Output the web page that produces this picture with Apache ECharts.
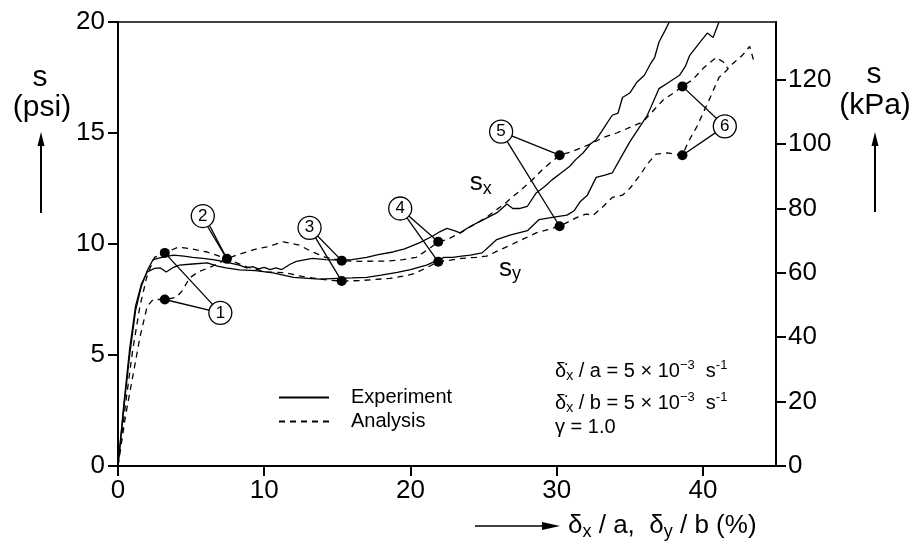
<!DOCTYPE html>
<html><head><meta charset="utf-8">
<script src="https://cdn.jsdelivr.net/npm/echarts@6/dist/echarts.min.js"></script>
<style>html,body{margin:0;padding:0;background:#fff}#c{width:913px;height:545px}</style>
</head><body><div id="c"></div>
<script>
const xTicks = [0, 10, 20, 30, 40];
const yPsiTicks = [0, 5, 10, 15, 20];
const yKpaTicks = [0, 20, 40, 60, 80, 100, 120];
const PSI_TO_KPA = 6.894757;

const expSx = [[0,0],[0.4,2.6],[0.8,5.0],[1.2,7.0],[1.6,8.1],[2.0,8.8],[2.4,9.3],[3.0,9.4],[3.8,9.5],[4.5,9.45],[5.1,9.4],[5.8,9.35],[6.5,9.3],[7.3,9.2],[8.3,9.05],[8.8,8.92],[9.2,8.98],[9.6,8.88],[10.0,8.95],[10.4,8.85],[10.8,8.92],[11.2,8.85],[11.8,9.1],[12.2,9.22],[13.3,9.35],[14.2,9.3],[15.2,9.28],[16.0,9.3],[17.0,9.4],[17.8,9.52],[18.8,9.64],[19.6,9.78],[20.6,10.05],[21.5,10.35],[22.0,10.55],[22.5,10.7],[23.0,10.6],[23.4,10.5],[24.1,10.8],[24.7,11.0],[25.3,11.2],[25.9,11.4],[26.6,11.8],[27.0,11.6],[27.5,11.6],[28.0,11.7],[28.6,12.3],[29.2,12.6],[29.7,12.9],[30.3,13.2],[30.9,13.5],[31.3,13.8],[31.8,14.1],[32.3,14.5],[32.7,14.7],[33.3,15.3],[33.8,15.8],[34.2,15.9],[34.5,16.6],[35.0,16.8],[35.5,17.3],[36.0,17.6],[36.4,18.1],[36.7,18.4],[37.0,19.1],[37.4,19.6],[37.7,20.0]];
const expSy = [[0,0],[0.4,2.8],[0.8,5.3],[1.2,7.2],[1.6,8.2],[2.0,8.74],[2.5,8.9],[2.9,8.92],[3.3,8.74],[3.8,8.95],[4.2,9.05],[5.1,9.1],[6.1,9.15],[6.8,9.0],[7.4,8.92],[8.3,8.83],[9.4,8.8],[10.6,8.7],[12.0,8.5],[13.0,8.45],[13.8,8.42],[15.0,8.45],[16.0,8.47],[17.0,8.5],[18.0,8.6],[19.1,8.72],[20.0,8.85],[21.1,9.05],[21.8,9.25],[22.3,9.4],[22.9,9.4],[23.5,9.45],[24.1,9.5],[24.9,9.6],[25.4,9.9],[25.9,10.2],[26.8,10.4],[27.4,10.5],[28.0,10.6],[28.8,11.1],[29.7,11.2],[30.7,11.3],[31.2,11.5],[31.6,11.9],[32.1,12.2],[32.7,13.0],[33.3,13.1],[33.8,13.2],[34.4,13.9],[35.0,14.6],[35.6,15.2],[36.2,15.8],[36.6,16.4],[37.0,17.0],[37.7,17.3],[38.4,17.6],[38.8,18.0],[39.1,18.5],[39.7,19.0],[40.3,19.5],[40.7,19.3],[41.1,20.0]];
const anaSx = [[0,0],[0.5,2.2],[1.0,4.0],[1.5,5.8],[2.0,7.2],[2.4,7.5],[3.2,7.5],[4.0,7.6],[4.4,7.9],[4.9,8.47],[5.5,8.75],[6.1,8.9],[6.8,9.1],[7.45,9.33],[8.1,9.5],[8.8,9.64],[9.5,9.78],[10.2,9.87],[11.3,10.1],[12.4,9.95],[13.3,9.64],[14.2,9.4],[15.3,9.25],[16.5,9.22],[18.4,9.23],[19.5,9.3],[20.4,9.4],[21.2,9.75],[21.9,10.1],[22.5,10.2],[23.4,10.5],[24.3,10.85],[25.2,11.2],[26.0,11.6],[26.6,11.9],[27.4,12.35],[28.2,12.8],[29.1,13.4],[30.2,14.0],[31.0,14.15],[32.3,14.5],[33.2,14.8],[34.1,15.0],[35.0,15.25],[35.9,15.5],[36.6,16.0],[37.3,16.5],[38.0,16.8],[38.6,17.1],[39.3,17.4],[40.0,17.9],[40.9,18.4],[41.4,18.2],[41.7,17.9]];
const anaSy = [[0,0],[0.5,2.7],[1.0,5.2],[1.5,7.2],[2.0,8.6],[2.5,9.4],[3.2,9.6],[4.1,9.85],[4.9,9.8],[6.1,9.64],[7.45,9.33],[8.8,8.97],[10.2,8.74],[11.5,8.7],[12.5,8.55],[13.3,8.47],[14.3,8.38],[15.3,8.33],[16.5,8.35],[17.5,8.4],[18.6,8.45],[19.5,8.55],[20.2,8.65],[21.0,8.9],[21.9,9.2],[22.5,9.25],[23.5,9.35],[24.5,9.4],[25.2,9.45],[26.0,9.7],[27.0,10.0],[27.8,10.25],[28.6,10.5],[29.4,10.65],[30.2,10.8],[30.8,11.0],[31.4,11.2],[32.0,11.35],[32.5,11.3],[33.2,11.7],[33.8,12.1],[34.5,12.2],[35.0,12.5],[35.7,13.1],[36.2,13.6],[36.8,14.05],[37.6,14.1],[38.6,14.0],[39.0,14.6],[39.6,15.3],[40.5,16.6],[41.1,17.5],[41.6,17.8],[42.0,18.1],[42.7,18.5],[43.2,18.9],[43.5,18.2]];

const calloutNums = ['1','2','3','4','5','6'];
const calloutPos = [[7.0,6.9],[5.8,11.26],[13.1,10.73],[19.3,11.6],[26.2,15.06],[41.5,15.3]];
const calloutDots = [[[3.2,9.6],[3.2,7.5]],[[7.45,9.33],[7.45,9.33]],[[15.3,9.25],[15.3,8.33]],[[21.9,10.1],[21.9,9.2]],[[30.2,14.0],[30.2,10.8]],[[38.6,17.1],[38.6,14.0]]];
const curveLabels = [[24.8,12.75,'x'],[26.8,8.9,'y']];

const FONT = "'Liberation Sans', Arial, Helvetica, sans-serif";

const leaderData = [];
const dotData = [];
calloutPos.forEach((p, i) => {
  const d = calloutDots[i];
  const same = d[0][0] === d[1][0] && d[0][1] === d[1][1];
  d.forEach((pt, j) => {
    const start = same ? [p[0] + (j === 0 ? -0.1 : 0.12), p[1]] : p;
    leaderData.push({coords: [start, pt]});
    if (j === 0 || !same) dotData.push(pt);
  });
});

const chart = echarts.init(document.getElementById('c'), null, {renderer: 'canvas'});
const lineBase = (name, data, dashed) => ({
  name, type: 'line', data, symbol: 'none', showSymbol: false, smooth: false, z: 2,
  lineStyle: {color: '#000', width: 1.3, type: dashed ? [6, 5] : 'solid'},
  itemStyle: {color: '#000'}, animation: false, silent: true
});

const subRich = {
  m: {fontSize: 26, fontFamily: FONT, fill: '#000', lineHeight: 30},
  s: {fontSize: 18, fontFamily: FONT, fill: '#000', lineHeight: 18, verticalAlign: 'bottom'}
};
const paramRich = {
  m: {fontSize: 20, fontFamily: FONT, fill: '#000', lineHeight: 24},
  s: {fontSize: 14, fontFamily: FONT, fill: '#000', lineHeight: 14, verticalAlign: 'bottom'},
  p: {fontSize: 13, fontFamily: FONT, fill: '#000', lineHeight: 13, verticalAlign: 'top'}
};

const baseGraphic = [
  // left axis title
  {type: 'text', style: {text: 's', font: '30px ' + FONT, fill: '#000', x: 40, y: 78, align: 'center', verticalAlign: 'middle'}},
  {type: 'text', style: {text: '(psi)', font: '30px ' + FONT, fill: '#000', x: 42, y: 108, align: 'center', verticalAlign: 'middle'}},
  {type: 'line', shape: {x1: 41, y1: 213, x2: 41, y2: 140}, style: {stroke: '#000', lineWidth: 2}},
  {type: 'polygon', shape: {points: [[41, 132], [37.5, 146], [44.5, 146]]}, style: {fill: '#000'}},
  // right axis title
  {type: 'text', style: {text: 's', font: '30px ' + FONT, fill: '#000', x: 874, y: 75, align: 'center', verticalAlign: 'middle'}},
  {type: 'text', style: {text: '(kPa)', font: '30px ' + FONT, fill: '#000', x: 875, y: 106, align: 'center', verticalAlign: 'middle'}},
  {type: 'line', shape: {x1: 875, y1: 212, x2: 875, y2: 140}, style: {stroke: '#000', lineWidth: 2}},
  {type: 'polygon', shape: {points: [[875, 132], [871.5, 146], [878.5, 146]]}, style: {fill: '#000'}},
  // x axis title
  {type: 'line', shape: {x1: 475, y1: 526, x2: 548, y2: 526}, style: {stroke: '#000', lineWidth: 1.5}},
  {type: 'polygon', shape: {points: [[560, 526], [542, 522], [542, 530]]}, style: {fill: '#000'}},
  {type: 'text', style: {x: 568, y: 526, verticalAlign: 'middle', text: '{m|δ}{s|x}{m| / a,  δ}{s|y}{m| / b (%)}', rich: subRich}},
  // parameter block
  {type: 'text', style: {x: 555, y: 359, text: '{m|δ\u0307}{s|x}{m| / a = 5 × 10}{p|\u22123}{m|  s}{p|-1}', rich: paramRich}},
  {type: 'text', style: {x: 555, y: 391, text: '{m|δ\u0307}{s|x}{m| / b = 5 × 10}{p|\u22123}{m|  s}{p|-1}', rich: paramRich}},
  {type: 'text', style: {x: 555, y: 417, text: 'γ = 1.0', font: '20px ' + FONT, fill: '#000'}}
];

chart.setOption({
  animation: false,
  backgroundColor: '#fff',
  grid: {left: 118, right: 137, top: 22, bottom: 79, show: true, borderColor: '#000', borderWidth: 1.5, backgroundColor: 'transparent'},
  xAxis: {
    type: 'value', min: 0, max: 45,
    axisLine: {show: true, onZero: false, lineStyle: {color: '#000', width: 2}},
    axisTick: {show: true, length: 10, customValues: xTicks, lineStyle: {color: '#000', width: 2}},
    axisLabel: {customValues: xTicks, color: '#000', fontSize: 26, fontFamily: FONT, margin: 12},
    splitLine: {show: false}
  },
  yAxis: [{
    type: 'value', min: 0, max: 20, interval: 5, position: 'left',
    axisLine: {show: true, onZero: false, lineStyle: {color: '#000', width: 2}},
    axisTick: {show: true, length: 10, customValues: yPsiTicks, lineStyle: {color: '#000', width: 2}},
    axisLabel: {customValues: yPsiTicks, color: '#000', fontSize: 26, fontFamily: FONT, margin: 13},
    splitLine: {show: false}
  }, {
    type: 'value', min: 0, max: 20 * PSI_TO_KPA, position: 'right',
    axisLine: {show: true, onZero: false, lineStyle: {color: '#000', width: 2}},
    axisTick: {show: true, length: 10, customValues: yKpaTicks, lineStyle: {color: '#000', width: 2}},
    axisLabel: {customValues: yKpaTicks, color: '#000', fontSize: 26, fontFamily: FONT, margin: 12},
    splitLine: {show: false}
  }],
  legend: {
    data: ['Experiment', 'Analysis'], orient: 'vertical', left: 278, top: 387, padding: 0,
    itemWidth: 50, itemHeight: 14, itemGap: 3, selectedMode: false,
    itemStyle: {opacity: 0},
    textStyle: {color: '#000', fontSize: 20, fontFamily: FONT, padding: [0, 0, 0, 17], lineHeight: 21}
  },
  series: [
    lineBase('Experiment', expSx, false),
    lineBase('Experiment', expSy, false),
    lineBase('Analysis', anaSx, true),
    lineBase('Analysis', anaSy, true),
    {
      type: 'lines', coordinateSystem: 'cartesian2d', data: leaderData, z: 3, silent: true,
      lineStyle: {color: '#000', width: 1.3, opacity: 1}
    },
    {
      type: 'scatter', data: dotData, symbolSize: 10, z: 4, silent: true,
      itemStyle: {color: '#000', opacity: 1}
    },
    {
      type: 'scatter', data: calloutPos.map((p, i) => [p[0], p[1], calloutNums[i]]), symbolSize: 23, z: 5, silent: true,
      itemStyle: {color: '#fff', borderColor: '#000', borderWidth: 1.3, opacity: 1},
      label: {show: true, position: 'inside', formatter: p => p.value[2], color: '#000', fontSize: 17, fontFamily: FONT}
    }
  ],
  graphic: baseGraphic
});

// curve name labels (s_x, s_y) placed through the axes' own conversion
const extra = curveLabels.map(c => {
  const px = chart.convertToPixel({xAxisIndex: 0, yAxisIndex: 0}, [c[0], c[1]]);
  return {type: 'text', style: {x: px[0], y: px[1], align: 'center', verticalAlign: 'middle',
    text: '{m|s}{s|' + c[2] + '}', rich: subRich}, z: 10};
});
chart.setOption({graphic: baseGraphic.concat(extra)});
</script>
</body></html>
